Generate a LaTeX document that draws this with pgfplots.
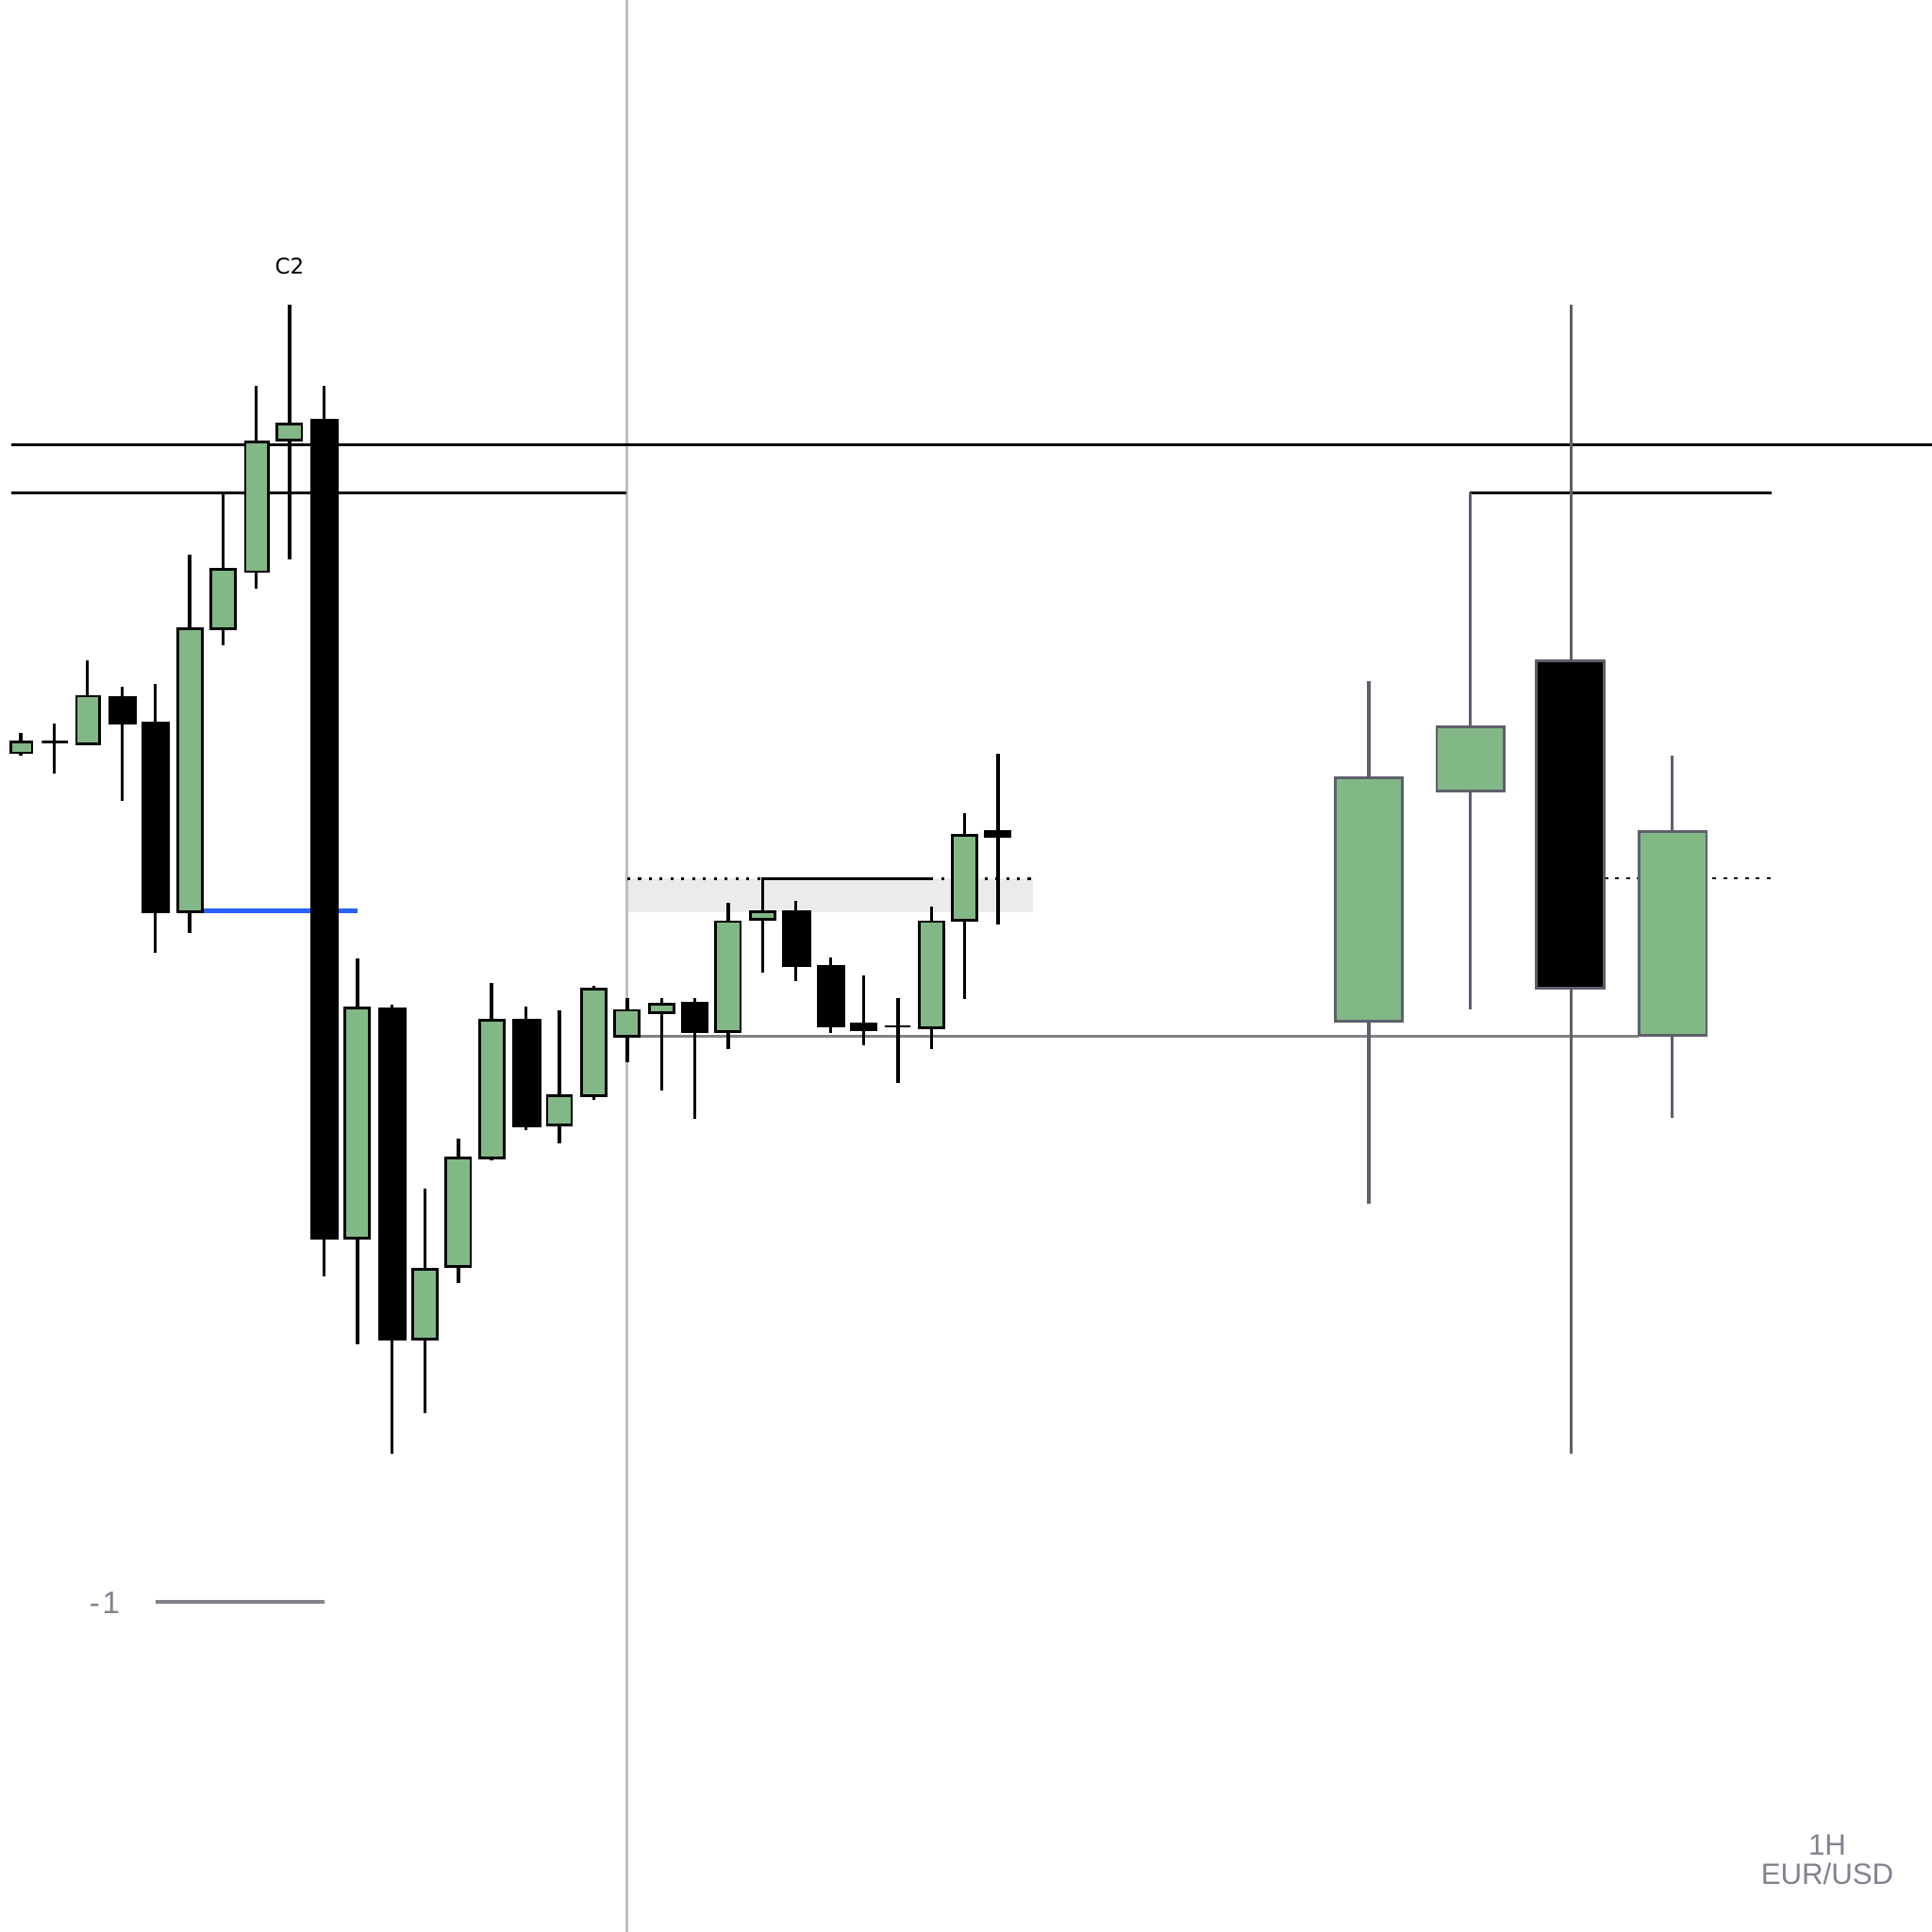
\documentclass[border=0pt]{standalone}
\usepackage{pgfplots}
\pgfplotsset{compat=1.18}
\usepackage{fontspec}
\setmainfont{Liberation Sans}
\newfontfamily\dejavu{DejaVu Sans}
\definecolor{cgreen}{RGB}{130,184,134}
\definecolor{cgray}{RGB}{93,96,107}
\definecolor{tgray}{RGB}{128,131,142}
\definecolor{vgray}{RGB}{190,190,190}
\definecolor{band}{RGB}{235,235,235}
\definecolor{cblue}{RGB}{41,98,255}
\definecolor{hgray}{RGB}{130,130,130}
% #1 fill, #2 line colour, #3 x, #4 left, #5 right, #6 body top, #7 body bottom, #8 high, #9 low
\newcommand{\candle}[9]{%
  \addplot[draw=#2, line width=0.75pt] coordinates {(#3,#8) (#3,#9)};
  \addplot[draw=#2, fill=#1, line width=0.62pt] coordinates {(#4,#6) (#5,#6) (#5,#7) (#4,#7)} -- cycle;
}
\begin{document}
\begin{tikzpicture}
\begin{axis}[width=15.68cm, height=15.68cm, scale only axis,
  xmin=0, xmax=1568, ymin=0, ymax=1568, y dir=reverse, hide axis, clip=true]
\path[fill=white] (rel axis cs:0,0) rectangle (rel axis cs:1,1);
% background elements
\addplot[fill=band, draw=none] coordinates {(509,713) (838,713) (838,740) (509,740)} -- cycle;
\addplot[vgray, line width=0.6pt] coordinates {(509,0) (509,1568)};
\addplot[black, line width=0.6pt] coordinates {(9,361) (1568,361)};
\addplot[black, line width=0.6pt] coordinates {(9,400) (508,400)};
\addplot[black, line width=0.55pt] coordinates {(1193,400) (1438,400)};
\addplot[cblue, line width=1pt] coordinates {(154,739) (290,739)};
\addplot[black, line width=0.7pt, dash pattern=on 0.7pt off 1.8pt] coordinates {(509,713) (838,713)};
\addplot[black, line width=0.45pt, dash pattern=on 0.9pt off 1.6pt] coordinates {(1302,713) (1438,713)};
\addplot[black, line width=0.6pt] coordinates {(619,740) (619,713) (755,713)};
\addplot[hgray, line width=0.5pt] coordinates {(519,841) (1330,841)};
\addplot[tgray, line width=0.7pt] coordinates {(126,1300) (263,1300)};
% left candles
\candle{cgreen}{black}{17}{9}{26}{602}{611}{595}{613}
\candle{black}{black}{44}{34}{55}{602}{602}{587}{628}
\candle{cgreen}{black}{71}{62}{81}{565}{604}{536}{604}
\candle{black}{black}{99}{89}{110}{566}{587}{557}{650}
\candle{black}{black}{126}{116}{137}{587}{740}{555}{773}
\candle{cgreen}{black}{154}{144}{164}{510}{740}{450}{757}
\candle{cgreen}{black}{181}{171}{191}{462}{510}{400}{524}
\candle{cgreen}{black}{208}{199}{218}{359}{464}{313}{478}
\candle{cgreen}{black}{235}{225}{245}{344}{357}{247}{454}
\candle{black}{black}{263}{253}{274}{341}{1005}{313}{1036}
\candle{cgreen}{black}{290}{280}{300}{818}{1005}{778}{1091}
\candle{black}{black}{318}{308}{329}{819}{1087}{815}{1180}
\candle{cgreen}{black}{345}{335}{355}{1030}{1087}{965}{1147}
\candle{cgreen}{black}{372}{362}{382}{940}{1028}{924}{1041}
\candle{cgreen}{black}{399}{389}{409}{828}{940}{798}{942}
\candle{black}{black}{427}{417}{438}{828}{914}{817}{917}
\candle{cgreen}{black}{454}{444}{464}{889}{913}{820}{928}
\candle{cgreen}{black}{482}{472}{492}{803}{889}{800}{893}
\candle{cgreen}{black}{509}{499}{519}{820}{841}{810}{862}
\candle{cgreen}{black}{537}{527}{547}{815}{822}{810}{885}
\candle{black}{black}{564}{554}{574}{814}{837}{810}{908}
\candle{cgreen}{black}{591}{581}{601}{748}{837}{733}{851}
\candle{cgreen}{black}{619}{609}{629}{740}{746}{740}{789}
\candle{black}{black}{646}{636}{657}{740}{784}{731}{796}
\candle{black}{black}{674}{664}{685}{784}{833}{777}{838}
\candle{black}{black}{701}{691}{711}{831}{836}{792}{848}
\candle{black}{black}{729}{718}{739}{833}{833}{810}{879}
\candle{cgreen}{black}{756}{746}{766}{748}{834}{736}{851}
\candle{cgreen}{black}{783}{773}{793}{678}{747}{660}{811}
\candle{black}{black}{810}{800}{820}{675}{679}{612}{750}
% right candles
\candle{cgreen}{cgray}{1111}{1084}{1138}{631}{829}{553}{977}
\candle{cgreen}{cgray}{1193}{1166}{1221}{590}{642}{400}{819}
\candle{black}{cgray}{1275}{1247}{1302}{536}{802}{247}{1180}
\candle{cgreen}{cgray}{1357}{1330}{1385}{675}{840}{613}{907}
% texts
\node[text=black] at (axis cs:235,216) {\dejavu\fontsize{5}{6}\selectfont C2};
\node[anchor=east, text=tgray, inner sep=0pt] at (axis cs:98,1301) {\fontsize{7.2}{8}\selectfont -\kern0.6pt1};
\node[text=tgray, inner sep=0pt] at (axis cs:1483,1497) {\fontsize{6.8}{8}\selectfont 1H};
\node[text=tgray, inner sep=0pt] at (axis cs:1483,1521) {\fontsize{6.8}{8}\selectfont EUR/USD};
\end{axis}
\end{tikzpicture}
\end{document}
